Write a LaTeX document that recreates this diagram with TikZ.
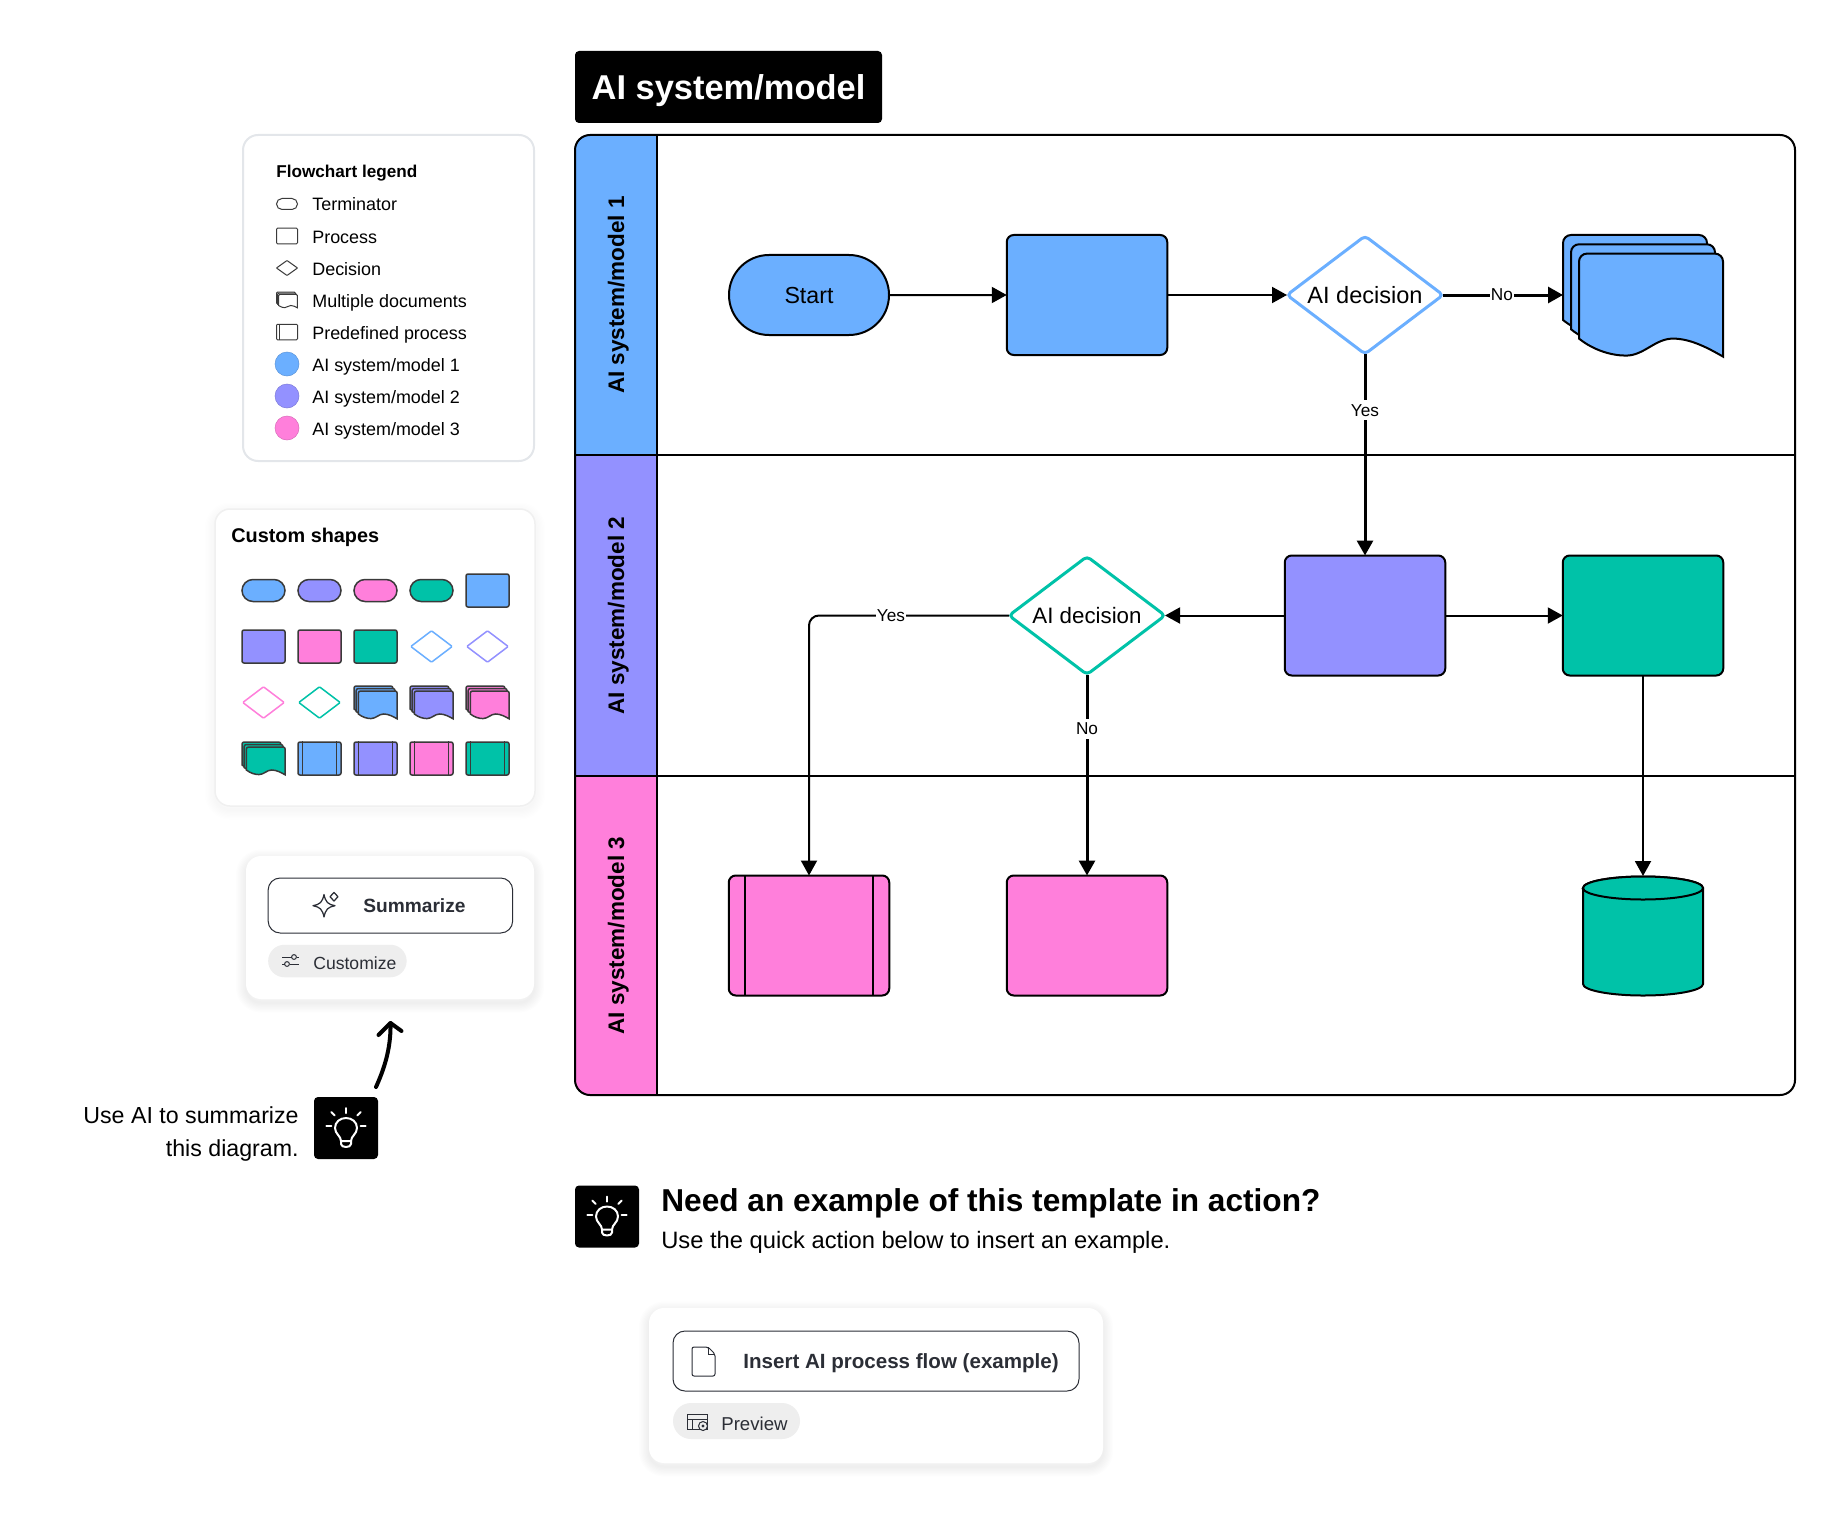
\documentclass[tikz,border=0pt]{standalone}
\usepackage{fontspec}
\setmainfont{Liberation Sans}
\usetikzlibrary{shapes.geometric,shapes.misc,arrows.meta}
\definecolor{aiblue}{HTML}{6BAFFF}
\definecolor{aipurple}{HTML}{9391FF}
\definecolor{aipink}{HTML}{FF7FDB}
\definecolor{aigreen}{HTML}{00C2A8}
\definecolor{inkgray}{HTML}{3A3A3A}
\definecolor{btnink}{HTML}{2B2E36}
\definecolor{pillgray}{HTML}{EEEEEE}
\definecolor{cardline}{HTML}{E3E6EA}
\newcommand\fs[1]{\fontsize{#1}{#1}\selectfont}
\tikzset{
	flow/.style={-{Triangle[length=3mm,width=3.2mm]},line width=.4mm},
	thickflow/.style={flow,line width=.6mm},
	plain/.style={line width=.4mm},
	base/.style={draw,line width=.4mm,inner sep=0,outer sep=0},
	process/.style={base,rounded corners=1.4mm,minimum width=32.1mm,minimum height=24mm},
	terminator/.style={base,rounded rectangle,minimum width=32mm,minimum height=16mm,font=\fs{13.2}},
	decision/.style={base,diamond,rounded corners=.8mm,line width=.6mm,fill=white,aspect=1.32,minimum width=31.2mm,minimum height=23.6mm},
	flowtag/.style={fill=white,inner xsep=.2mm,inner ysep=.8mm,font=\fs{9.8}},
	lanetitle/.style={rotate=90,inner sep=0,text depth=0pt,font=\bfseries\fs{12.8}},
	legendtext/.style={anchor=base west,inner sep=0,font=\fs{10.2}},
	legendicon/.style={draw=inkgray,line width=.2mm,inner sep=0,outer sep=0},
	miniterm/.style={draw=inkgray,line width=.3mm,rounded rectangle,inner sep=0,minimum width=8.6mm,minimum height=4.4mm},
	miniproc/.style={draw=inkgray,line width=.3mm,rounded corners=.4mm,inner sep=0,minimum width=8.6mm,minimum height=6.6mm},
	minidec/.style={draw,line width=.3mm,diamond,rounded corners=.2mm,aspect=1.32,inner sep=0,minimum width=8.4mm,minimum height=6.4mm},
	button/.style={draw=btnink,line width=.2mm,fill=white,rounded corners=2.4mm,inner sep=0},
	pill/.style={fill=pillgray,rounded rectangle,inner sep=0},
}
% three sheets, origin at their top left corner
\newcommand\docstack[4]{%
\begin{scope}[shift={(#1)},scale=#2]
	\foreach \k in {0,1,2}
	\draw[fill=#3,#4,shift={(8*\k,9.3*\k)}] (144,103) -- (144,8) arc[start angle=0,end angle=90,radius=1.6mm] -- (8,0) arc[start angle=90,end angle=180,radius=1.6mm] -- (0,85) .. controls (15,97) and (33,102) .. (47,102) .. controls (65,102) and (76,85) .. (94,85) .. controls (112,85) and (130,95) .. (144,103) -- cycle;
\end{scope}
}
\newcommand\sidelines[2]{%
\draw[line width=.3mm,draw=inkgray] ([xshift=#2]#1.north west) -- ([xshift=#2]#1.south west);
\draw[line width=.3mm,draw=inkgray] ([xshift=-#2]#1.north east) -- ([xshift=-#2]#1.south east);
}
% black box with the lamp
\newcommand\idea[1]{%
\begin{scope}[shift={(#1)}]
	\fill[black,rounded corners=.8mm] (-32,-31) rectangle (32,31);
	\begin{scope}[draw=white,line width=.4mm,line cap=round,line join=round]
		\draw (-5,13) .. controls (-5,8) and (-11,6) .. (-11,0) .. controls (-11,-6) and (-6,-10) .. (0,-10) .. controls (6,-10) and (11,-6) .. (11,0) .. controls (11,6) and (5,8) .. (5,13) -- cycle;
		\draw (-5,13) -- (-5,16) .. controls (-5,20) and (5,20) .. (5,16) -- (5,13);
		\draw (0,-20) -- (0,-15);
		\draw (-14.7,-16) -- (-11.3,-12.5);
		\draw (14.7,-16) -- (11.3,-12.5);
		\draw (-19.7,-2) -- (-14.7,-2);
		\draw (19.7,-2) -- (14.7,-2);
	\end{scope}
\end{scope}
}
% white card with a soft shadow
\newcommand\softcard[3][.009]{%
\foreach \w in {.5,1,...,4}
\draw[black,opacity=#1,line width=\w mm,rounded corners=3mm,yshift=-.7mm] (#2) rectangle (#3);
\fill[white,rounded corners=3mm] (#2) rectangle (#3);
}

\begin{document}
\begin{tikzpicture}[x=.2mm,y=-.2mm]
	\useasboundingbox (0,0) rectangle (1837,1532);

	%% title and lanes
	\fill[black,rounded corners=.8mm] (575,51) rectangle (882,123);
	\node (title) [anchor=base,text=white,inner sep=0,font=\bfseries\fs{19.6}] at (728.5,100) {AI system/model};

	\begin{scope}
		\clip[rounded corners=3mm] (575,135) rectangle (1795,1095);
		\fill[aiblue] (575,135) rectangle (657,454.5);
		\fill[aipurple] (575,454.5) rectangle (657,775.5);
		\fill[aipink] (575,775.5) rectangle (657,1095);
	\end{scope}
	\draw[plain,rounded corners=3mm] (575,135) rectangle (1795,1095);
	\draw[plain] (657,135) -- (657,1095);
	\draw[plain] (575,454.5) -- (1795,454.5);
	\draw[plain] (575,775.5) -- (1795,775.5);
	\node (lane1) [lanetitle] at (616,295) {AI system/model 1};
	\node (lane2) [lanetitle] at (616,615.5) {AI system/model 2};
	\node (lane3) [lanetitle] at (616,935.5) {AI system/model 3};

	%% flow shapes
	\node (start) [terminator,fill=aiblue,text depth=0pt] at (809,295) {Start};
	\node (procblue) [process,fill=aiblue] at (1087,295) {};
	\node (decblue) [decision,draw=aiblue,font=\fs{13.4}] at (1365,295) {AI decision};
	\docstack{1563,235}{1}{aiblue}{line width=.4mm}
	\node (docs) [inner sep=0,outer sep=0,minimum width=32mm,minimum height=24.4mm] at (1643,295) {};
	\node (procpurple) [process,fill=aipurple] at (1365,615.5) {};
	\node (procgreen) [process,fill=aigreen] at (1643,615.5) {};
	\node (decgreen) [decision,draw=aigreen,font=\fs{12.7}] at (1087,615.5) {AI decision};
	\node (predpink) [process,fill=aipink] at (809,935.5) {};
	\draw[plain] ([xshift=3.2mm]predpink.north west) -- ([xshift=3.2mm]predpink.south west);
	\draw[plain] ([xshift=-3.2mm]predpink.north east) -- ([xshift=-3.2mm]predpink.south east);
	\node (procpink) [process,fill=aipink] at (1087,935.5) {};
	\draw[plain,fill=aigreen] (1583,888) -- (1583,984) arc[start angle=180,end angle=360,x radius=12mm,y radius=2.3mm] -- (1703,888) arc[start angle=0,end angle=180,x radius=12mm,y radius=2.3mm] -- cycle;
	\draw[plain,fill=aigreen] (1643,888) ellipse [x radius=12mm,y radius=2.3mm];
	\node (store) [inner sep=0,outer sep=0,minimum width=24mm,minimum height=24mm] at (1643,936) {};

	%% connectors
	\draw[flow] (start) -- (procblue);
	\draw[flow] (procblue) -- (decblue);
	\draw[thickflow] (decblue) -- node[flowtag,pos=.49] (tagno) {No} (docs.west);
	\draw[thickflow] (decblue) -- node[flowtag,pos=.28] (tagyes) {Yes} (procpurple);
	\draw[flow] (procpurple) -- (decgreen);
	\draw[flow] (procpurple) -- (procgreen);
	\draw[flow] (procgreen) -- (store.north);
	\draw[thickflow] (decgreen) -- node[flowtag,pos=.27] (tagno2) {No} (procpink);
	\draw[flow,rounded corners=2mm] (decgreen.west) -- (809,615.5) -- (predpink.north);
	\node (tagyes2) [flowtag] at (891,615.5) {Yes};

	%% legend
	\draw[cardline,line width=.4mm,fill=white,rounded corners=3mm] (243,135) rectangle (534,461);
	\node (legendhead) [legendtext,font=\bfseries\fs{9.75}] at (276,177.5) {Flowchart legend};
	\foreach \i/\y/\t in {1/210.5/Terminator,2/243.5/Process,3/275/Decision,4/307.5/Multiple documents,5/339.5/Predefined process}
	\node (legend\i) [legendtext] at (312,\y) {\t};
	\foreach \i/\y in {1/371,2/403.8,3/435.5}
	\node (legendai\i) [legendtext] at (312,\y) {AI system/model \i};
	\node (iconterm) [legendicon,rounded rectangle,minimum width=4.2mm,minimum height=2.2mm] at (287,204) {};
	\node (iconproc) [legendicon,rounded corners=.2mm,minimum width=4.2mm,minimum height=3.1mm] at (287,236) {};
	\node (icondec) [legendicon,diamond,rounded corners=.1mm,aspect=1.4,minimum width=4.2mm,minimum height=3mm] at (287,268) {};
	\docstack{276.5,292}{.13}{white}{line width=.2mm,draw=inkgray}
	\node (iconpred) [legendicon,rounded corners=.2mm,minimum width=4.2mm,minimum height=3.1mm] at (287,332) {};
	\draw[inkgray,line width=.2mm] ([xshift=.6mm]iconpred.north west) -- ([xshift=.6mm]iconpred.south west);
	\foreach \i/\y/\c in {1/364/aiblue,2/396/aipurple,3/428/aipink}
	\node (dot\i) [circle,fill=\c,draw=\c!85!black,line width=.1mm,inner sep=0,minimum size=4.8mm] at (287,\y) {};

	%% custom shapes
	\softcard[.004]{215,509}{535,806}
	\draw[black!6,line width=.3mm,rounded corners=3mm] (215,509) rectangle (535,806);
	\node (customhead) [anchor=base west,inner sep=0,font=\bfseries\fs{11.3}] at (231,542.5) {Custom shapes};
	\foreach \i/\c in {0/aiblue,1/aipurple,2/aipink,3/aigreen}
	\node (term\i) [miniterm,fill=\c] at (263.5+56*\i,590.5) {};
	\node (miniblue) [miniproc,fill=aiblue] at (487.5,590.5) {};
	\foreach \i/\c in {0/aipurple,1/aipink,2/aigreen}
	\node (mini\i) [miniproc,fill=\c] at (263.5+56*\i,646.5) {};
	\node (dec0) [minidec,draw=aiblue] at (431.5,646.5) {};
	\node (dec1) [minidec,draw=aipurple] at (487.5,646.5) {};
	\node (dec2) [minidec,draw=aipink] at (263.5,702.5) {};
	\node (dec3) [minidec,draw=aigreen] at (319.5,702.5) {};
	\foreach \x/\y/\c in {354/686/aiblue,410/686/aipurple,466/686/aipink,242/742/aigreen} {
		\docstack{\x,\y}{.27}{\c}{line width=.3mm,draw=inkgray}
	}
	\foreach \i/\c in {1/aiblue,2/aipurple,3/aipink,4/aigreen} {
		\node (pred\i) [miniproc,fill=\c] at (263.5+56*\i,758.5) {};
		\sidelines{pred\i}{1.06mm}
	}

	%% summarize card
	\softcard{246,856}{534,999}
	\node (sumbtn) [button,minimum width=48.9mm,minimum height=11mm] at (390.4,905.5) {};
	\node (sumtext) [anchor=west,inner sep=0,text=btnink,text depth=0pt,font=\bfseries\fs{10.9}] at (363,906) {Summarize};
	\draw[btnink,line width=.25mm,line join=round] (324,894.5) .. controls (325.5,902) and (328,904.5) .. (335,905.7) .. controls (328,907) and (325.5,909.5) .. (324,917) .. controls (322.5,909.5) and (320,907) .. (313,905.7) .. controls (320,904.5) and (322.5,902) .. (324,894.5) -- cycle;
	\draw[btnink,line width=.25mm,line join=round] (334,892.5) -- (338,896.7) -- (334,901) -- (330,896.7) -- cycle;
	\node (cuspill) [pill,minimum width=27.7mm,minimum height=6.5mm] at (337.4,961) {};
	\node (custext) [anchor=west,inner sep=0,text=btnink,font=\fs{10}] at (313,963) {Customize};
	\begin{scope}[btnink,line width=.2mm]
		\draw (282,957) -- (291.5,957) (296.5,957) -- (299,957);
		\draw (294,957) circle (2.4);
		\draw (282,964) -- (284.5,964) (289.5,964) -- (299,964);
		\draw (287,964) circle (2.4);
	\end{scope}

	%% hint at the left
	\coordinate (hintfoot) at (376,1087);
	\coordinate (hinttip) at (390.5,1023);
	\coordinate (hintbarbl) at (378.5,1035);
	\coordinate (hintbarbr) at (401.5,1031);
	\draw[line width=.8mm,line cap=round] (hintfoot) .. controls (386,1065) and (391,1045) .. (hinttip);
	\draw[line width=.8mm,line cap=round,line join=round] (hintbarbl) -- (hinttip) -- (hintbarbr);
	\node (hint) [anchor=east,align=right,inner sep=0,font=\fontsize{13.2}{18.4}\selectfont] at (299,1134) {Use AI to summarize\\this diagram.};
	\idea{346,1128}

	%% example part
	\idea{607,1216.5}
	\node (needhead) [anchor=base west,inner sep=0,font=\bfseries\fs{18}] at (661,1211) {Need an example of this template in action?};
	\node (needsub) [anchor=base west,inner sep=0,font=\fs{13.5}] at (661,1248) {Use the quick action below to insert an example.};
	\softcard{649,1308}{1103,1463}
	\node (insbtn) [button,minimum width=81.2mm,minimum height=12mm] at (876,1361) {};
	\node (instext) [anchor=west,inner sep=0,text=btnink,font=\bfseries\fs{11.7}] at (743,1363) {Insert AI process flow (example)};
	\draw[btnink,line width=.2mm,rounded corners=.4mm] (708,1347) -- (715,1354) -- (715,1376) -- (692,1376) -- (692,1347) -- cycle;
	\draw[btnink,line width=.2mm] (708,1347) -- (708,1354) -- (715,1354);
	\node (prepill) [pill,minimum width=25.4mm,minimum height=7.2mm] at (736.5,1421) {};
	\node (pretext) [anchor=west,inner sep=0,text=btnink,font=\fs{10.6}] at (721,1423.5) {Preview};
	\begin{scope}[btnink,line width=.2mm]
		\draw (687,1414) rectangle (707,1429);
		\draw (687,1419) -- (707,1419);
		\draw (692,1419) -- (692,1429);
		\draw[fill=pillgray] (703,1426) circle (4.5);
		\fill (703,1426) circle (1.6);
	\end{scope}
\end{tikzpicture}
\end{document}
